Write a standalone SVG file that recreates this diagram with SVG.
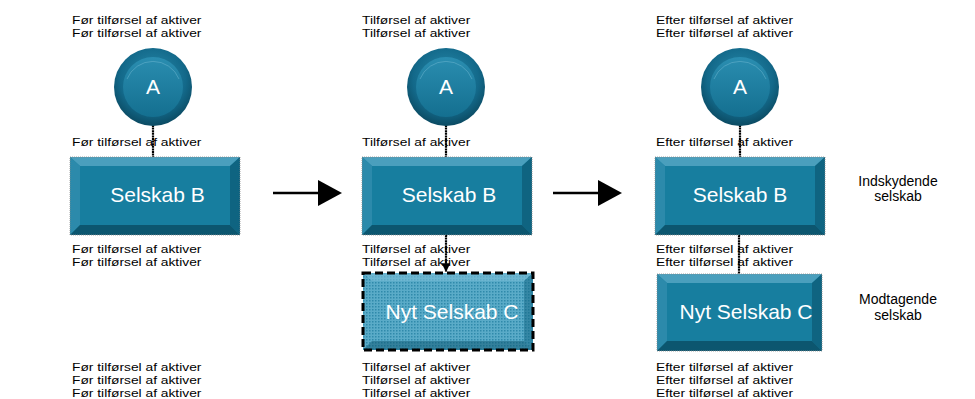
<svg xmlns="http://www.w3.org/2000/svg" width="975" height="399" viewBox="0 0 975 399">
  <style>
    .row { font-family: "Liberation Sans", Arial, sans-serif; font-size: 13.8px; fill: #000; }
    .lbl { font-family: "Liberation Sans", Arial, sans-serif; font-size: 21px; fill: #fff; text-anchor: middle; }
    .side { font-family: "Liberation Sans", Arial, sans-serif; font-size: 14px; fill: #000; text-anchor: middle; }
    .link { stroke: #000; stroke-width: 2.2; fill: none; stroke-dasharray: 2 0.6; }
    .flow { stroke: #000; stroke-width: 2.6; fill: none; }
    .edge { fill: none; stroke: #8a8a8a; stroke-width: 0.8; stroke-dasharray: 1 1; }
    .bt { fill: #4a9fbd; }
    .bl { fill: #2c8aab; }
    .br { fill: #0f6481; }
    .bb { fill: #0c566f; }
    .face { fill: #177e9f; }
  </style>
  <defs>
    <radialGradient id="ring" cx="50%" cy="40%" r="60%">
      <stop offset="0%" stop-color="#2a8fb0"/>
      <stop offset="70%" stop-color="#13698a"/>
      <stop offset="100%" stop-color="#0b4a62"/>
    </radialGradient>
    <linearGradient id="disc" x1="0" y1="0" x2="0" y2="1">
      <stop offset="0%" stop-color="#2a8db0"/>
      <stop offset="100%" stop-color="#146f90"/>
    </linearGradient>
    <pattern id="grain" width="3" height="3" patternUnits="userSpaceOnUse">
      <rect width="3" height="3" fill="#5aabc8"/>
      <rect width="1.5" height="1.5" fill="#2f8aab"/>
    </pattern>
    <marker id="tip" viewBox="0 0 10 10" refX="10" refY="5" markerWidth="4" markerHeight="4" orient="auto">
      <path d="M0,0 L10,5 L0,10 z" fill="#000"/>
    </marker>
    <!-- bevelled box 170 x 78 -->
    <g id="box">
      <rect x="0" y="0" width="170" height="78" class="face"/>
      <polygon points="0,0 170,0 160,9 10,9" class="bt"/>
      <polygon points="0,0 10,9 10,68 0,78" class="bl"/>
      <polygon points="170,0 170,78 160,68 160,9" class="br"/>
      <polygon points="0,78 10,68 160,68 170,78" class="bb"/>
      <rect x="0" y="0" width="170" height="78" class="edge"/>
    </g>
    <g id="node">
      <circle r="39" fill="url(#ring)"/>
      <circle r="30" fill="url(#disc)"/>
      <path d="M-26,-8 A28,28 0 0 1 26,-8" fill="none" stroke="#6fb8d2" stroke-width="1" opacity="0.5"/>
    </g>
  </defs>

  <!-- captions: squat rows -->
  <g id="captions-before" class="row">
    <text transform="translate(72,23.7) scale(1,0.78)">Før tilførsel af aktiver</text>
    <text transform="translate(72,36.7) scale(1,0.78)">Før tilførsel af aktiver</text>
    <text transform="translate(72,145.7) scale(1,0.78)">Før tilførsel af aktiver</text>
    <text transform="translate(72,252.7) scale(1,0.78)">Før tilførsel af aktiver</text>
    <text transform="translate(72,265.7) scale(1,0.78)">Før tilførsel af aktiver</text>
    <text transform="translate(72,370.7) scale(1,0.78)">Før tilførsel af aktiver</text>
    <text transform="translate(72,383.7) scale(1,0.78)">Før tilførsel af aktiver</text>
    <text transform="translate(72,396.7) scale(1,0.78)">Før tilførsel af aktiver</text>
  </g>
  <g id="captions-during" class="row">
    <text transform="translate(362,23.7) scale(1,0.78)">Tilførsel af aktiver</text>
    <text transform="translate(362,36.7) scale(1,0.78)">Tilførsel af aktiver</text>
    <text transform="translate(362,145.7) scale(1,0.78)">Tilførsel af aktiver</text>
    <text transform="translate(362,252.7) scale(1,0.78)">Tilførsel af aktiver</text>
    <text transform="translate(362,265.7) scale(1,0.78)">Tilførsel af aktiver</text>
    <text transform="translate(362,370.7) scale(1,0.78)">Tilførsel af aktiver</text>
    <text transform="translate(362,383.7) scale(1,0.78)">Tilførsel af aktiver</text>
    <text transform="translate(362,396.7) scale(1,0.78)">Tilførsel af aktiver</text>
  </g>
  <g id="captions-after" class="row">
    <text transform="translate(656,23.7) scale(1,0.78)">Efter tilførsel af aktiver</text>
    <text transform="translate(656,36.7) scale(1,0.78)">Efter tilførsel af aktiver</text>
    <text transform="translate(656,145.7) scale(1,0.78)">Efter tilførsel af aktiver</text>
    <text transform="translate(656,252.7) scale(1,0.78)">Efter tilførsel af aktiver</text>
    <text transform="translate(656,265.7) scale(1,0.78)">Efter tilførsel af aktiver</text>
    <text transform="translate(656,370.7) scale(1,0.78)">Efter tilførsel af aktiver</text>
    <text transform="translate(656,383.7) scale(1,0.78)">Efter tilførsel af aktiver</text>
    <text transform="translate(656,396.7) scale(1,0.78)">Efter tilførsel af aktiver</text>
  </g>

  <!-- connectors -->
  <g id="connectors">
    <line x1="153" y1="125" x2="153" y2="157" class="link"/>
    <line x1="446" y1="125" x2="446" y2="157" class="link"/>
    <line x1="740" y1="125" x2="740" y2="157" class="link"/>
    <line x1="446" y1="235" x2="446" y2="272" class="link" marker-end="url(#tip)"/>
    <line x1="739" y1="235" x2="739" y2="274" class="link"/>
    <line x1="273" y1="193" x2="320" y2="193" class="flow"/>
    <polygon points="318,180 342,193 318,206" fill="#000"/>
    <line x1="553" y1="193" x2="600" y2="193" class="flow"/>
    <polygon points="598,180 622,193 598,206" fill="#000"/>
  </g>

  <!-- step 1 -->
  <g id="a1" transform="translate(153,87)">
    <use href="#node"/>
    <text class="lbl" y="7">A</text>
  </g>
  <g id="b1" transform="translate(70,157)">
    <use href="#box"/>
    <text class="lbl" x="87.5" y="45">Selskab B</text>
  </g>

  <!-- step 2 -->
  <g id="a2" transform="translate(446,87)">
    <use href="#node"/>
    <text class="lbl" y="7">A</text>
  </g>
  <g id="b2" transform="translate(362,157)">
    <use href="#box"/>
    <text class="lbl" x="87" y="45">Selskab B</text>
  </g>
  <g id="c2" transform="translate(363,273)">
    <rect x="0" y="0" width="170" height="77" fill="url(#grain)"/>
    <polygon points="0,0 170,0 161,8 9,8" fill="#7cc0d8" opacity="0.6"/>
    <polygon points="170,0 170,77 161,68 161,8" fill="#0f6481" opacity="0.5"/>
    <polygon points="0,77 9,68 161,68 170,77" fill="#0c566f" opacity="0.5"/>
    <rect x="0" y="0" width="170" height="77" fill="none" stroke="#000" stroke-width="3" stroke-dasharray="8 4"/>
    <text class="lbl" x="89" y="46">Nyt Selskab C</text>
  </g>

  <!-- step 3 -->
  <g id="a3" transform="translate(740,87)">
    <use href="#node"/>
    <text class="lbl" y="7">A</text>
  </g>
  <g id="b3" transform="translate(655,157)">
    <use href="#box"/>
    <text class="lbl" x="85" y="45">Selskab B</text>
  </g>
  <g id="c3" transform="translate(657,274)">
    <rect x="0" y="0" width="165" height="77" class="face"/>
    <polygon points="0,0 165,0 155,9 10,9" class="bt"/>
    <polygon points="0,0 10,9 10,67 0,77" class="bl"/>
    <polygon points="165,0 165,77 155,67 155,9" class="br"/>
    <polygon points="0,77 10,67 155,67 165,77" class="bb"/>
    <rect x="0" y="0" width="165" height="77" class="edge"/>
    <text class="lbl" x="89" y="45">Nyt Selskab C</text>
  </g>

  <!-- role labels -->
  <g id="role-giver">
    <text class="side" x="898" y="186">Indskydende</text>
    <text class="side" x="898" y="201">selskab</text>
  </g>
  <g id="role-receiver">
    <text class="side" x="898" y="304">Modtagende</text>
    <text class="side" x="898" y="320">selskab</text>
  </g>
</svg>
